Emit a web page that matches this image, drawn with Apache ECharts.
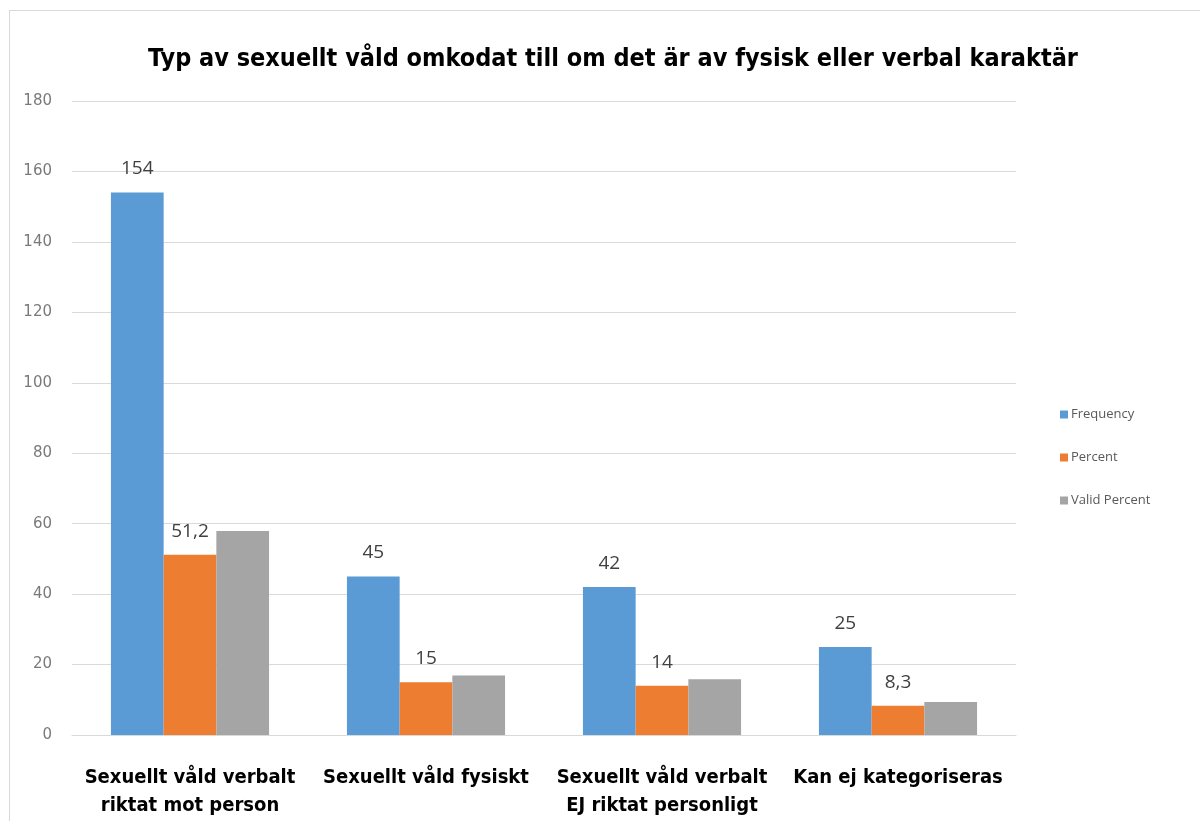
<!DOCTYPE html>
<html>
<head>
<meta charset="utf-8">
<script src="https://cdn.jsdelivr.net/npm/echarts@6/dist/echarts.min.js"></script>
<style>
  html, body { margin: 0; padding: 0; background: #fff; }
  #frame { position: absolute; left: 9px; top: 10px; width: 1200px; height: 830px; border: 1px solid #d9d9d9; }
  #chart { position: absolute; left: 0; top: 0; width: 1200px; height: 821px; }
</style>
</head>
<body>
<div id="frame"></div>
<div id="chart"></div>
<script>
  // data
  var categories = [
    'Sexuellt våld verbalt\nriktat mot person',
    'Sexuellt våld fysiskt',
    'Sexuellt våld verbalt\nEJ riktat personligt',
    'Kan ej kategoriseras'
  ];
  var frequency = [154, 45, 42, 25];
  var percent = [51.2, 15, 14, 8.3];
  var validPercent = [57.9, 16.9, 15.8, 9.4];
  var yTicks = [0, 20, 40, 60, 80, 100, 120, 140, 160, 180];

  var titleFont = '"Liberation Sans Narrow", "DejaVu Sans Condensed", sans-serif';

  var valueLabel = {
    show: true,
    position: 'top',
    distance: 14,
    color: '#404040',
    fontSize: 19,
    fontFamily: '"Open Sans", sans-serif',
    formatter: function (p) { return String(p.value).replace('.', ','); }
  };

  var chart = echarts.init(document.getElementById('chart'));
  chart.setOption({
    animation: false,
    title: {
      text: 'Typ av sexuellt våld omkodat till om det är av fysisk eller verbal karaktär',
      left: 608,
      textAlign: 'center',
      top: 42,
      textStyle: { fontFamily: titleFont, fontWeight: 'bold', fontSize: 25, color: '#000' }
    },
    legend: {
      orient: 'vertical',
      left: 1055,
      top: 403,
      itemGap: 30,
      itemWidth: 8,
      itemHeight: 8,
      icon: 'rect',
      textStyle: { color: '#595959', fontSize: 13, fontFamily: '"Open Sans", sans-serif', padding: [0, 0, 0, -2] },
      data: ['Frequency', 'Percent', 'Valid Percent']
    },
    grid: { left: 72, right: 184, top: 101, bottom: 86 },
    xAxis: {
      type: 'category',
      data: categories,
      axisLine: { lineStyle: { color: '#d9d9d9' } },
      axisTick: { show: false },
      axisLabel: {
        interval: 0,
        margin: 29,
        color: '#000',
        fontFamily: titleFont,
        fontWeight: 'bold',
        fontSize: 20,
        lineHeight: 28
      }
    },
    yAxis: {
      type: 'value',
      min: yTicks[0],
      max: yTicks[yTicks.length - 1],
      interval: 20,
      axisLine: { show: false },
      axisTick: { show: false },
      axisLabel: { color: '#7a7a7a', fontSize: 15, margin: 20, fontFamily: '"DejaVu Sans", sans-serif' },
      splitLine: { lineStyle: { color: '#d9d9d9' } }
    },
    series: [
      { name: 'Frequency', type: 'bar', data: frequency, barGap: '0%', barCategoryGap: '33%',
        itemStyle: { color: '#5b9bd5' }, label: valueLabel },
      { name: 'Percent', type: 'bar', data: percent,
        itemStyle: { color: '#ed7d31' }, label: valueLabel },
      { name: 'Valid Percent', type: 'bar', data: validPercent,
        itemStyle: { color: '#a5a5a5' } }
    ]
  });
</script>
</body>
</html>
